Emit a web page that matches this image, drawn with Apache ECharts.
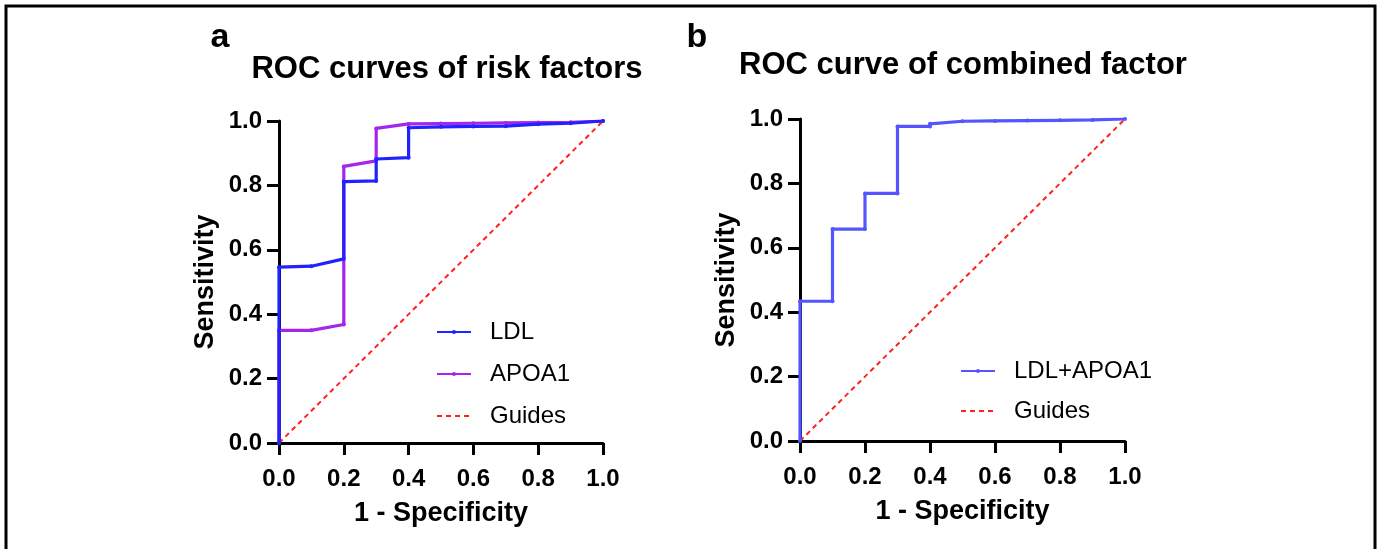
<!DOCTYPE html>
<html>
<head>
<meta charset="utf-8">
<script src="https://cdn.jsdelivr.net/npm/echarts@6/dist/echarts.min.js"></script>
<style>
    html, body { margin: 0; padding: 0; background: #fff; }
    #main { width: 1381px; height: 549px; }
</style>
</head>
<body>
<div id="main"></div>
<script>
    // panel a: ROC of single risk factors
    var ldlX = [0, 0, 0.1, 0.2, 0.2, 0.3, 0.3, 0.4, 0.4, 0.5, 0.6, 0.7, 0.8, 0.9, 1.0];
    var ldlY = [0, 0.546, 0.549, 0.572, 0.812, 0.814, 0.882, 0.886, 0.979, 0.982, 0.983, 0.984, 0.99, 0.993, 1.0];
    var apoX = [0, 0, 0.1, 0.2, 0.2, 0.3, 0.3, 0.4, 0.5, 0.6, 0.7, 0.8, 0.9, 1.0];
    var apoY = [0, 0.35, 0.35, 0.368, 0.859, 0.876, 0.977, 0.991, 0.992, 0.993, 0.994, 0.995, 0.996, 1.0];
    // panel b: combined factor
    var combX = [0, 0, 0.1, 0.1, 0.2, 0.2, 0.3, 0.3, 0.4, 0.4, 0.5, 0.6, 0.7, 0.8, 0.9, 1.0];
    var combY = [0, 0.434, 0.434, 0.658, 0.658, 0.769, 0.769, 0.977, 0.977, 0.985, 0.993, 0.994, 0.995, 0.996, 0.997, 1.0];
    var guideX = [0, 1];
    var guideY = [0, 1];
    var axisTicks = [0, 0.2, 0.4, 0.6, 0.8, 1.0];

    var FONT = '"Liberation Sans", Arial, sans-serif';

    function pairs(xs, ys) {
        return xs.map(function (x, i) { return [x, ys[i]]; });
    }

    function valueAxis(idx, name, isX) {
        return {
            type: 'value',
            gridIndex: idx,
            min: axisTicks[0],
            max: axisTicks[axisTicks.length - 1],
            interval: 0.2,
            name: name,
            nameLocation: 'middle',
            nameGap: isX ? 57 : 60,
            nameTextStyle: { fontFamily: FONT, fontWeight: 'bold', fontSize: 27, color: '#000' },
            axisLine: { show: true, onZero: false, lineStyle: { color: '#000', width: 3 } },
            axisTick: { show: true, length: 12, lineStyle: { color: '#000', width: 3 } },
            axisLabel: {
                fontFamily: FONT, fontWeight: 'bold', fontSize: 24, color: '#000',
                margin: isX ? 24 : 17,
                formatter: function (v) { return v.toFixed(1); }
            },
            splitLine: { show: false }
        };
    }

    function curve(name, xs, ys, idx, color, z) {
        return {
            name: name, type: 'line', xAxisIndex: idx, yAxisIndex: idx,
            data: pairs(xs, ys),
            symbol: 'circle', symbolSize: 4, showSymbol: true,
            itemStyle: { color: color },
            lineStyle: { color: color, width: 3.2 },
            z: z, animation: false
        };
    }

    function guide(idx) {
        return {
            name: 'Guides', type: 'line', xAxisIndex: idx, yAxisIndex: idx,
            data: pairs(guideX, guideY),
            showSymbol: false, symbol: 'none',
            itemStyle: { color: '#ff2020' },
            lineStyle: { color: '#ff2020', width: 2, type: [5, 4] },
            z: 1, animation: false
        };
    }

    var legendText = { fontFamily: FONT, fontSize: 24, color: '#000', lineHeight: 24, padding: [0, 0, 0, 14] };
    var guideEntry = { name: 'Guides', itemStyle: { opacity: 0 } };

    var chart = echarts.init(document.getElementById('main'));
    var option = {
        backgroundColor: '#fff',
        animation: false,
        title: [
            { text: 'a', left: 220, top: 20, textAlign: 'center', padding: 0,
              textStyle: { fontFamily: FONT, fontWeight: 'bold', fontSize: 34, color: '#000', lineHeight: 36 } },
            { text: 'ROC curves of risk factors', left: 447, top: 53, textAlign: 'center', padding: 0,
              textStyle: { fontFamily: FONT, fontWeight: 'bold', fontSize: 31, color: '#000', lineHeight: 32 } },
            { text: 'b', left: 697, top: 20, textAlign: 'center', padding: 0,
              textStyle: { fontFamily: FONT, fontWeight: 'bold', fontSize: 34, color: '#000', lineHeight: 36 } },
            { text: 'ROC curve of combined factor', left: 963, top: 49, textAlign: 'center', padding: 0,
              textStyle: { fontFamily: FONT, fontWeight: 'bold', fontSize: 31, color: '#000', lineHeight: 32 } }
        ],
        grid: [
            { left: 279, top: 121, width: 324, height: 322 },
            { left: 800, top: 119, width: 325, height: 322 }
        ],
        xAxis: [valueAxis(0, '1 - Specificity', true), valueAxis(1, '1 - Specificity', true)],
        yAxis: [valueAxis(0, 'Sensitivity', false), valueAxis(1, 'Sensitivity', false)],
        legend: [
            { data: ['LDL', 'APOA1', guideEntry], orient: 'vertical', left: 436, top: 320,
              itemWidth: 34, itemHeight: 5, itemGap: 18, padding: 0, selectedMode: false,
              textStyle: legendText },
            { data: ['LDL+APOA1', guideEntry], orient: 'vertical', left: 960, top: 359,
              itemWidth: 34, itemHeight: 5, itemGap: 16, padding: 0, selectedMode: false,
              textStyle: legendText }
        ],
        series: [
            guide(0),
            curve('APOA1', apoX, apoY, 0, '#a426ee', 2),
            curve('LDL', ldlX, ldlY, 0, '#2222ff', 3),
            guide(1),
            curve('LDL+APOA1', combX, combY, 1, '#5555ff', 3)
        ],
        graphic: [{
            type: 'polyline',
            shape: { points: [[6, 549], [6, 6], [1375, 6], [1375, 549]] },
            style: { stroke: '#000', lineWidth: 3, fill: null },
            silent: true
        }]
    };
    chart.setOption(option);
</script>
</body>
</html>
